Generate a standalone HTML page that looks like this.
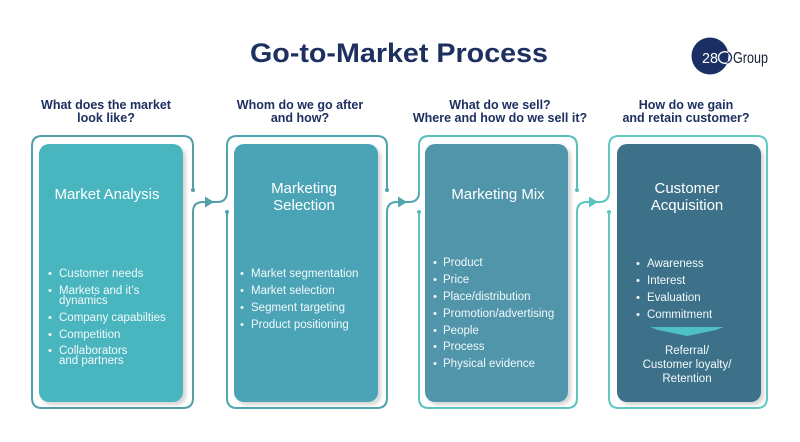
<!DOCTYPE html>
<html>
<head>
<meta charset="utf-8">
<style>
  html,body{margin:0;padding:0;background:#ffffff;}
  svg{display:block;}
  text{font-family:"Liberation Sans", sans-serif;}
</style>
</head>
<body>
<svg width="800" height="442" viewBox="0 0 800 442" xmlns="http://www.w3.org/2000/svg">
  <defs>
    <filter id="sh" x="-10%" y="-10%" width="130%" height="130%">
      <feDropShadow dx="3" dy="3" stdDeviation="1.8" flood-color="#000" flood-opacity="0.16"/>
    </filter>
    <clipPath id="logoclip"><circle cx="710" cy="56" r="18.5"/></clipPath>
  </defs>
  <rect width="800" height="442" fill="#ffffff"/>

  <!-- Title -->
  <text x="250" y="62" font-size="26.5" font-weight="bold" fill="#1d3060" textLength="298" lengthAdjust="spacingAndGlyphs">Go-to-Market Process</text>

  <!-- Logo -->
  <circle cx="710" cy="56" r="18.5" fill="#1a2f63"/>
  <text x="702" y="63" font-size="15" fill="#ffffff" textLength="16" lengthAdjust="spacingAndGlyphs">28</text>
  <ellipse cx="725" cy="57.5" rx="6.5" ry="5.8" fill="none" stroke="#1a2f63" stroke-width="1.4"/>
  <ellipse cx="725" cy="57.5" rx="6.5" ry="5.8" fill="none" stroke="#ffffff" stroke-width="1.4" clip-path="url(#logoclip)"/>
  <text x="733" y="63" font-size="15.5" fill="#1a1f33" textLength="35" lengthAdjust="spacingAndGlyphs">Group</text>

  <!-- Subheadings -->
  <g font-size="12.5" font-weight="bold" fill="#1d3060" text-anchor="middle">
    <text x="106" y="109">What does the market</text>
    <text x="106" y="122">look like?</text>
    <text x="300" y="109">Whom do we go after</text>
    <text x="300" y="122">and how?</text>
    <text x="500" y="109">What do we sell?</text>
    <text x="500" y="122">Where and how do we sell it?</text>
    <text x="686" y="109">How do we gain</text>
    <text x="686" y="122">and retain customer?</text>
  </g>

  <!-- Outline paths -->
  <g fill="none" stroke-width="2" stroke-linecap="round">
    <path d="M193,190 V146 Q193,136 183,136 H42 Q32,136 32,146 V398 Q32,408 42,408 H183 Q193,408 193,398 V212 Q193,202 203,202 H217 Q227,202 227,192" stroke="#539fa9"/>
    <path d="M227,192 V146 Q227,136 237,136 H377 Q387,136 387,146 V190" stroke="#50a4ae"/>
    <path d="M227,212 V398 Q227,408 237,408 H377 Q387,408 387,398 V212 Q387,202 397,202 H409 Q419,202 419,192" stroke="#50a6b0"/>
    <path d="M419,192 V146 Q419,136 429,136 H567 Q577,136 577,146 V190" stroke="#58bfbb"/>
    <path d="M419,212 V398 Q419,408 429,408 H567 Q577,408 577,398 V212 Q577,202 587,202 H599 Q609,202 609,192" stroke="#5bc4be"/>
    <path d="M609,192 V146 Q609,136 619,136 H757 Q767,136 767,146 V398 Q767,408 757,408 H619 Q609,408 609,398 V212" stroke="#60c9c0"/>
  </g>
  <g>
    <circle cx="193" cy="190" r="2" fill="#539fa9"/>
    <circle cx="227" cy="212" r="2" fill="#50a4ae"/>
    <circle cx="387" cy="190" r="2" fill="#50a4ae"/>
    <circle cx="419" cy="212" r="2" fill="#58bfbb"/>
    <circle cx="577" cy="190" r="2" fill="#58bfbb"/>
    <circle cx="609" cy="212" r="2" fill="#60c9c0"/>
  </g>
  <polygon points="205,196.5 214,202 205,207.5" fill="#539fa9"/>
  <polygon points="398,196.5 407,202 398,207.5" fill="#50a6b0"/>
  <polygon points="589,196.5 598,202 589,207.5" fill="#5bc4be"/>

  <!-- Inner boxes -->
  <rect x="39" y="144" width="144" height="258" rx="10" fill="#4ab5bf" filter="url(#sh)"/>
  <rect x="234" y="144" width="144" height="258" rx="10" fill="#4ba4b6" filter="url(#sh)"/>
  <rect x="425" y="144" width="143" height="258" rx="10" fill="#5195aa" filter="url(#sh)"/>
  <rect x="617" y="144" width="144" height="258" rx="10" fill="#3e7189" filter="url(#sh)"/>

  <!-- Headings -->
  <g font-size="15" fill="#ffffff" text-anchor="middle">
    <text x="107" y="199">Market Analysis</text>
    <text x="304" y="193">Marketing</text>
    <text x="304" y="210">Selection</text>
    <text x="498" y="199">Marketing Mix</text>
    <text x="687" y="193">Customer</text>
    <text x="687" y="210">Acquisition</text>
  </g>

  <!-- Bullets panel 1 -->
  <g font-size="11.5" fill="#f2fafb">
    <circle cx="50" cy="273.5" r="1.5"/>
    <text x="59" y="277">Customer needs</text>
    <circle cx="50" cy="290.5" r="1.5"/>
    <text x="59" y="294">Markets and it’s</text>
    <text x="59" y="304">dynamics</text>
    <circle cx="50" cy="317.5" r="1.5"/>
    <text x="59" y="321">Company capabilties</text>
    <circle cx="50" cy="334.5" r="1.5"/>
    <text x="59" y="338">Competition</text>
    <circle cx="50" cy="350.5" r="1.5"/>
    <text x="59" y="354">Collaborators</text>
    <text x="59" y="364">and partners</text>
  </g>

  <!-- Bullets panel 2 -->
  <g font-size="11.5" fill="#f2fafb">
    <circle cx="242" cy="273.5" r="1.5"/>
    <text x="251" y="277">Market segmentation</text>
    <circle cx="242" cy="290.5" r="1.5"/>
    <text x="251" y="294">Market selection</text>
    <circle cx="242" cy="307.5" r="1.5"/>
    <text x="251" y="311">Segment targeting</text>
    <circle cx="242" cy="324.5" r="1.5"/>
    <text x="251" y="328">Product positioning</text>
  </g>

  <!-- Bullets panel 3 -->
  <g font-size="11.5" fill="#f2fafb">
    <circle cx="435" cy="262.5" r="1.5"/>
    <text x="443" y="266">Product</text>
    <circle cx="435" cy="279.5" r="1.5"/>
    <text x="443" y="283">Price</text>
    <circle cx="435" cy="296.5" r="1.5"/>
    <text x="443" y="300">Place/distribution</text>
    <circle cx="435" cy="313.5" r="1.5"/>
    <text x="443" y="317">Promotion/advertising</text>
    <circle cx="435" cy="330.5" r="1.5"/>
    <text x="443" y="334">People</text>
    <circle cx="435" cy="346.5" r="1.5"/>
    <text x="443" y="350">Process</text>
    <circle cx="435" cy="363.5" r="1.5"/>
    <text x="443" y="367">Physical evidence</text>
  </g>

  <!-- Bullets panel 4 -->
  <g font-size="11.5" fill="#f2fafb">
    <circle cx="638" cy="263.5" r="1.5"/>
    <text x="647" y="267">Awareness</text>
    <circle cx="638" cy="280.5" r="1.5"/>
    <text x="647" y="284">Interest</text>
    <circle cx="638" cy="297.5" r="1.5"/>
    <text x="647" y="301">Evaluation</text>
    <circle cx="638" cy="314.5" r="1.5"/>
    <text x="647" y="318">Commitment</text>
  </g>
  <polygon points="650,327 724,327 716,330 687,336 658,330" fill="#4fc0c6"/>
  <g font-size="11.5" fill="#f2fafb" text-anchor="middle">
    <text x="687" y="354">Referral/</text>
    <text x="687" y="368">Customer loyalty/</text>
    <text x="687" y="382">Retention</text>
  </g>
</svg>
</body>
</html>
